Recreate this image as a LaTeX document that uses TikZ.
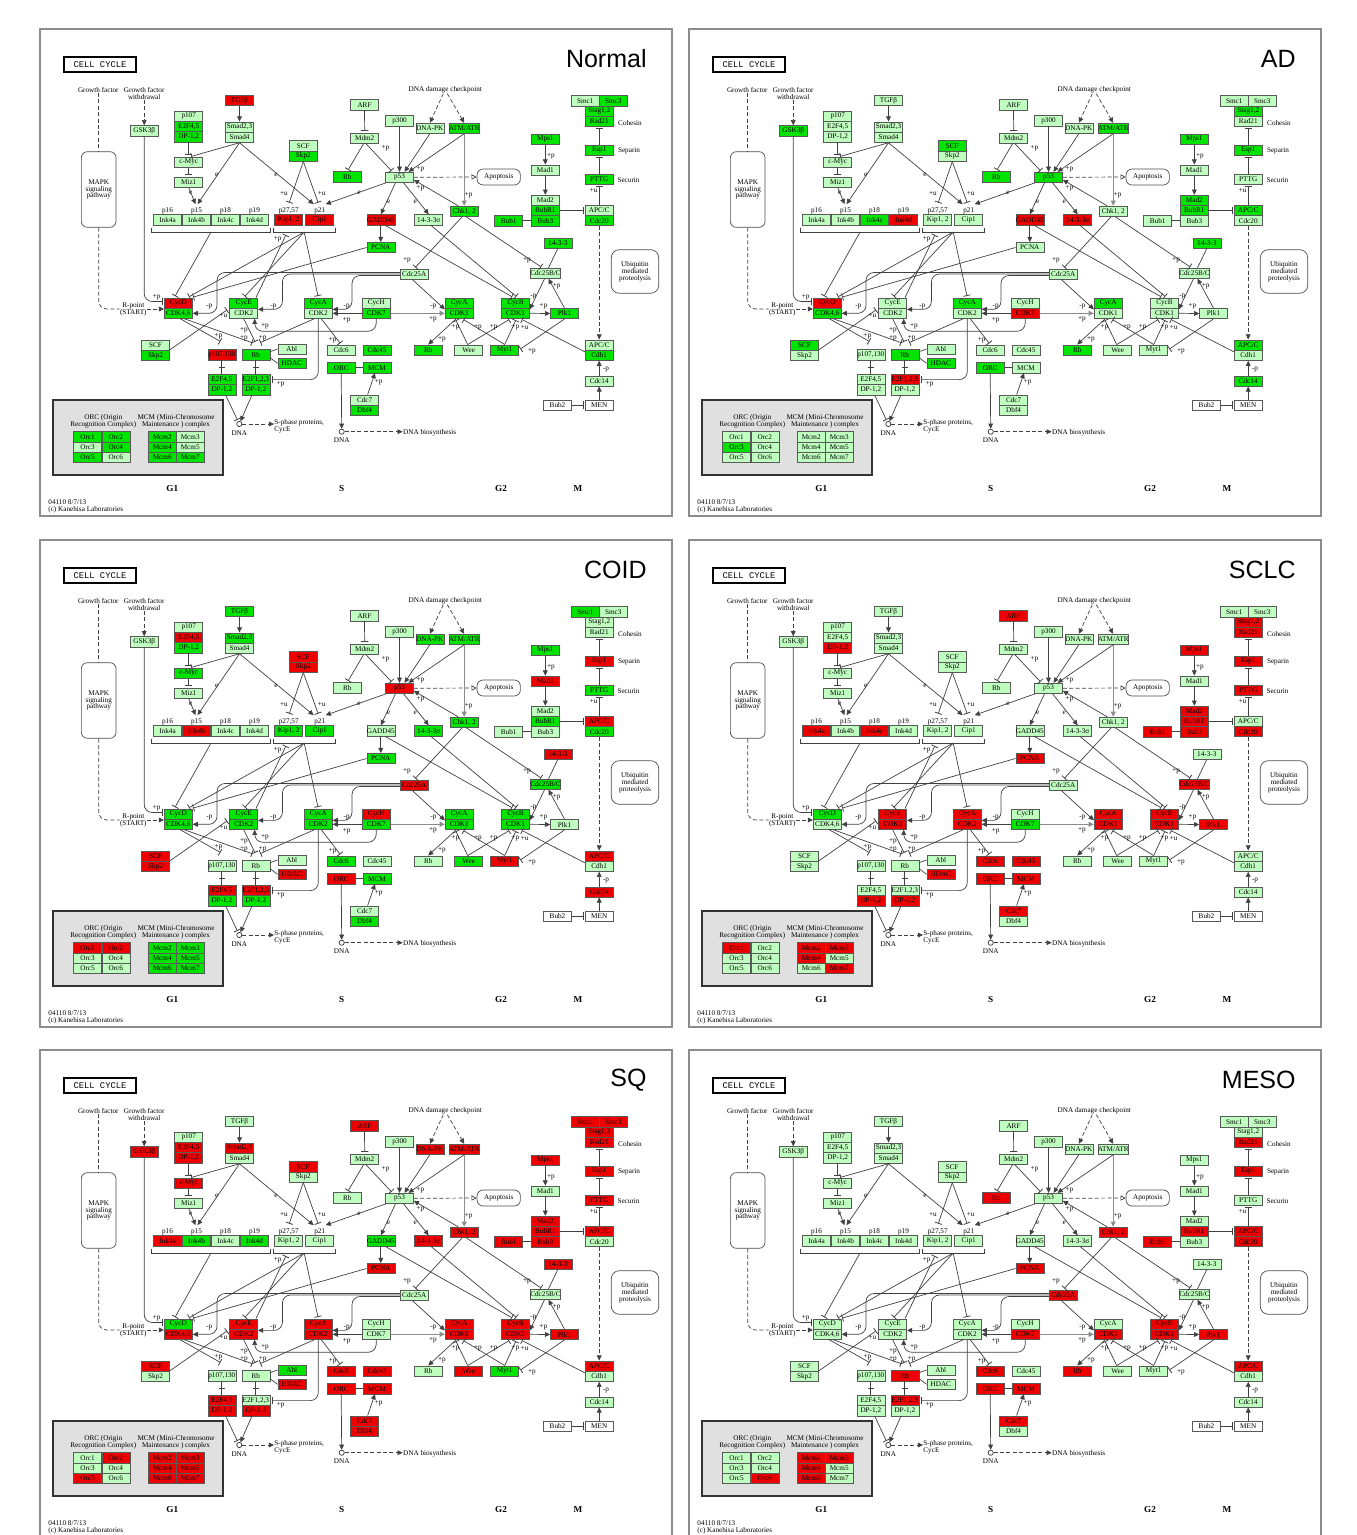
\documentclass[tikz,border=0pt]{standalone}
\usepackage{fontspec}
\setmainfont{Liberation Serif}
\newfontfamily\titlefont{Liberation Sans}
\newfontfamily\ccfont{Liberation Mono}
\usetikzlibrary{arrows.meta,calc}

\definecolor{lg}{RGB}{191,255,191}
\definecolor{gr}{RGB}{0,228,0}
\definecolor{rd}{RGB}{238,0,0}
\newcommand\gfont{\fontsize{3.6}{3.4}\selectfont}

\tikzset{
  gene/.style={draw=black!65, line width=0.3pt, fill=lg, minimum width=14pt,
    minimum height=5.15pt, inner sep=0pt, font=\gfont, /tikz/cg/#1/.try},
  lbl/.style={inner sep=0pt, font=\gfont, align=center},
  pbox/.style={draw=black!70, line width=0.35pt, inner sep=0pt, font=\gfont, align=center},
  ccbox/.style={draw=black, line width=0.8pt, fill=white, minimum width=36pt,
    minimum height=7.5pt, inner sep=0pt, font=\ccfont\fontsize{4.4}{4.4}\selectfont},
  legbox/.style={draw=black!80, line width=1pt, fill=black!12, minimum width=85pt,
    minimum height=37.5pt, inner sep=0pt},
  dot/.style={circle, draw=black!80, line width=0.35pt, fill=white, inner sep=0pt, minimum size=2.6pt},
  phase/.style={inner sep=0pt, font=\fontsize{4.6}{4.6}\selectfont\bfseries},
  frame/.style={draw=black!45, line width=0.6pt},
  con/.style={draw=black!75, line width=0.35pt},
  thk/.style={draw=black!45, line width=0.7pt},
  act/.style={con, -{Triangle[length=2.6pt, width=2.4pt]}},
  inh/.style={con, -{Bar[width=3.6pt, line width=0.4pt]}, shorten >=0.8pt},
  dsh/.style={con, dash pattern=on 2pt off 1.2pt},
  opn/.style={con, dash pattern=on 2pt off 1.2pt, -{Triangle[open, length=2.6pt, width=2.6pt]}}
}

\newcommand\gbox[4]{\node[gene=#1] (#1) at (#2,#3) {#4};}
\newcommand\tlab[4]{\node[lbl] (#1) at (#2,#3) {#4};}

\makeatletter
\newcommand\cellpanel[5]{%
\begin{scope}[shift={(#1,#2)}, name prefix=#3-]
\@for\cc@k:=#4\do{\edef\cc@t{\noexpand\tikzset{cg/\cc@k/.style={fill=rd}}}\cc@t}%
\@for\cc@k:=#5\do{\edef\cc@t{\noexpand\tikzset{cg/\cc@k/.style={fill=gr}}}\cc@t}%
\draw[frame] (40,29) rectangle (672,516);
\node[ccbox] (cc) at (100,64.5) {CELL CYCLE};
\node[anchor=east, inner sep=0pt, font=\titlefont\fontsize{12.5}{12.5}\selectfont] (title) at (647,59) {#3};

% growth factor side
\tlab{gf}{98.3}{90}{Growth factor}
\tlab{gfw}{144.2}{93.5}{Growth factor\\withdrawal}
\node[pbox, rounded corners=3pt, minimum width=17.35pt, minimum height=37.8pt] (mapk) at (98.7,189.5) {MAPK\\signaling\\pathway};
\tlab{rpt}{133.3}{309}{R-point\\(START)}
\gbox{gsk}{144.2}{130.7}{GSK3β}

% G1 regulators
\gbox{p107}{188.7}{116.2}{p107}
\gbox{e2f45a}{188.7}{126.5}{E2F4,5}
\gbox{dp12a}{188.7}{136.8}{DP-1,2}
\gbox{tgfb}{239.5}{100.5}{TGFβ}
\gbox{smad23}{239.5}{127}{Smad2,3}
\gbox{smad4}{239.5}{137.3}{Smad4}
\gbox{cmyc}{188.7}{162.3}{c-Myc}
\gbox{miz1}{188.7}{182}{Miz1}
\gbox{scfa}{303.3}{145.8}{SCF}
\gbox{skp2a}{303.3}{156.1}{Skp2}
\gbox{ink4a}{167.5}{219.7}{Ink4a}
\gbox{ink4b}{196.5}{219.7}{Ink4b}
\gbox{ink4c}{225.5}{219.7}{Ink4c}
\gbox{ink4d}{254.5}{219.7}{Ink4d}
\tlab{lp16}{167.5}{210.7}{p16}
\tlab{lp15}{196.5}{210.7}{p15}
\tlab{lp18}{225.5}{210.7}{p18}
\tlab{lp19}{254.5}{210.7}{p19}
\gbox{kip}{288.7}{219.7}{Kip1, 2}
\gbox{cip}{319.7}{219.7}{Cip1}
\tlab{lp27}{288.7}{210.7}{p27,57}
\tlab{lp21}{319.7}{210.7}{p21}

% DNA damage checkpoint
\gbox{arf}{364.5}{104.7}{ARF}
\gbox{mdm2}{364.7}{138}{Mdm2}
\gbox{rba}{347.3}{176.7}{Rb}
\gbox{p300}{399.5}{120.7}{p300}
\gbox{dnapk}{429.8}{128.3}{DNA-PK}
\gbox{atm}{464.2}{128.3}{ATM/ATR}
\tlab{dnadc}{445.3}{90}{DNA damage checkpoint}
\gbox{p53}{399.5}{177.3}{p53}
\node[pbox, rounded corners=3pt, minimum width=21.65pt, minimum height=8pt] (apop) at (498.7,177) {Apoptosis};
\gbox{chk}{464.2}{211.3}{Chk1, 2}
\gbox{gadd}{380.8}{219.7}{GADD45}
\gbox{sig}{428.7}{219.7}{14-3-3σ}
\gbox{pcna}{380.8}{247.5}{PCNA}
\gbox{cdc25a}{414.2}{274}{Cdc25A}
\gbox{h1433}{557.8}{243}{14-3-3}
\gbox{cdc25bc}{545.5}{273.3}{Cdc25B/C}

% spindle checkpoint and cohesin
\gbox{mps1}{545.3}{139.3}{Mps1}
\gbox{mad1}{545.3}{170}{Mad1}
\gbox{mad2}{545.3}{200.2}{Mad2}
\gbox{bubr1}{545.3}{210.5}{BubR1}
\gbox{bub3}{545.3}{220.8}{Bub3}
\gbox{bub1}{508.7}{220.8}{Bub1}
\gbox{apca}{599.2}{210.3}{APC/C}
\gbox{cdc20}{599.2}{220.6}{Cdc20}
\gbox{smc1}{585.2}{100.7}{Smc1}
\gbox{smc3}{613.2}{100.7}{Smc3}
\gbox{stag}{599.2}{111}{Stag1,2}
\gbox{rad21}{599.2}{121.3}{Rad21}
\gbox{espl}{599.2}{150}{Esp1}
\gbox{pttg}{599.2}{179}{PTTG}
\tlab{lcoh}{630}{123}{Cohesin}
\tlab{lsep}{629}{151}{Separin}
\tlab{lsec}{628.5}{180}{Securin}
\node[pbox, rounded corners=4pt, minimum width=23.7pt, minimum height=21.8pt] (ubq) at (635,271.5) {Ubiquitin\\mediated\\proteolysis};

% cyclin/CDK row
\gbox{cycd}{178.3}{303}{CycD}
\gbox{cdk46}{178.3}{313.3}{CDK4,6}
\gbox{cyce}{243.7}{303}{CycE}
\gbox{cdk2e}{243.7}{313.3}{CDK2}
\gbox{cyca2}{318.3}{303}{CycA}
\gbox{cdk2a}{318.3}{313.3}{CDK2}
\gbox{cych}{376.2}{303}{CycH}
\gbox{cdk7}{376.2}{313.3}{CDK7}
\gbox{cyca1}{459.2}{303}{CycA}
\gbox{cdk1a}{459.2}{313.3}{CDK1}
\gbox{cycb}{515.5}{303}{CycB}
\gbox{cdk1b}{515.5}{313.3}{CDK1}
\gbox{plk1}{564.5}{313.5}{Plk1}

% lower G1/S
\gbox{scfb}{155.5}{345}{SCF}
\gbox{skp2b}{155.5}{355.3}{Skp2}
\gbox{p107130}{221.8}{354.7}{p107,130}
\gbox{rbb}{255.8}{354.7}{Rb}
\gbox{abl}{291.8}{349}{Abl}
\gbox{hdac}{291.8}{363.3}{HDAC}
\gbox{e2f45b}{221.8}{379.6}{E2F4,5}
\gbox{dp12b}{221.8}{389.9}{DP-1,2}
\gbox{e2f123}{255.8}{379.6}{E2F1,2,3}
\gbox{dp12c}{255.8}{389.9}{DP-1,2}
\gbox{cdc6}{341.2}{350}{Cdc6}
\gbox{orc}{341.2}{367.7}{ORC}
\gbox{cdc45}{377}{350.5}{Cdc45}
\gbox{mcm}{377}{367.7}{MCM}
\gbox{cdc7}{364.6}{400}{Cdc7}
\gbox{dbf4}{364.6}{410.3}{Dbf4}
\node[dot] (dnaa) at (239.3,424) {};
\tlab{ldnaa}{239.3}{433.3}{DNA}
\node[dot] (dnab) at (341.7,431.7) {};
\tlab{ldnab}{341.7}{440}{DNA}
\node[lbl, align=left, anchor=west] (sph) at (274,426) {S-phase proteins,\\CycE};
\node[lbl, anchor=west] (dnabio) at (402.7,432.3) {DNA biosynthesis};

% G2/M
\gbox{rbc}{428.2}{350}{Rb}
\gbox{wee}{468.7}{350}{Wee}
\gbox{myt1}{504.7}{350}{Myt1}
\gbox{apcb}{599.2}{345}{APC/C}
\gbox{cdh1}{599.2}{355.3}{Cdh1}
\gbox{cdc14}{599.2}{381}{Cdc14}
\node[gene=men, fill=white] (men) at (599.2,405) {MEN};
\node[gene=bub2, fill=white] (bub2) at (557.5,405) {Bub2};

% brackets
\draw[con] ($(ink4a.south west)+(-1.5,2.5)$) -- ++(0,4.4) -| ($(ink4d.south east)+(1.5,2.5)$);
\coordinate (brA) at ($(ink4a.south west)!.5!(ink4d.south east)+(0,6.9)$);
\draw[con] ($(kip.south west)+(-1.5,2.5)$) -- ++(0,4.4) -| ($(cip.south east)+(1.5,2.5)$);
\coordinate (brB) at ($(kip.south west)!.5!(cip.south east)+(0,6.9)$);

% connectors, left
\draw[dsh] (gf.south) -- (gf.south |- mapk.north);
\draw[dsh, rounded corners=4] (mapk.south) |- (rpt.west);
\draw[dsh, act] (rpt.east) -- (rpt.east -| cycd.west);
\draw[dsh, act] (gfw.south) -- (gsk.north);
\draw[inh, rounded corners=4] (gsk.south) |- ($(cycd.west)+(0,-1.5)$);
\draw[inh] (dp12a.south) -- (cmyc.north);
\draw[inh] (smad4.south) -- ($(cmyc.north)+(1,0)$);
\draw[inh] (cmyc.south) -- (miz1.north);
\draw[act] (tgfb.south) -- (smad23.north);
\draw[act] (miz1.south) -- ($(lp15.north)+(-1,-3)$);
\draw[act] (smad4.south) -- ($(lp15.north)+(1,-3)$);
\draw[act] (smad4.south) -- ($(lp21.north)+(-6,-3)$);
\draw[inh] (skp2a.south) -- ($(lp27.north)+(0,-3)$);
\draw[inh] (skp2a.south) -- ($(lp21.north)+(-1,-3)$);
\draw[act] ($(p53.south west)+(1,0)$) -- ($(lp21.north)+(6,-3)$);

% connectors, p53
\draw[inh] (arf.south) -- (mdm2.north);
\draw[inh] ($(mdm2.south)+(-1,0)$) -- (rba.north);
\draw[inh] ($(mdm2.south)+(1,0)$) -- ($(p53.north)+(-7,0)$);
\draw[act] (p300.south) -- (p53.north);
\draw[act] (dnapk.south) -- ($(p53.north)+(5,0)$);
\draw[act] (atm.south) -- ($(p53.north)+(9,0)$);
\draw[dsh, act] ($(dnadc.south)+(-2,0)$) -- (dnapk.north);
\draw[dsh, act] ($(dnadc.south)+(2,0)$) -- (atm.north);
\draw[act, thk] (atm.south) -- (chk.north);
\draw[act] ($(chk.north)+(-6,0)$) -- ($(p53.east)+(0,2.5)$);
\draw[opn] (p53.east) -- (apop.west);
\draw[act] ($(p53.south)+(-4,0)$) -- (gadd.north);
\draw[act] ($(p53.south)+(4,0)$) -- (sig.north);
\draw[act] (gadd.south) -- (pcna.north);
\draw[inh] ($(gadd.south)+(4,0)$) -- ($(cycb.north)+(-2,0)$);
\draw[inh] ($(sig.south)+(2,0)$) -- ($(cycb.north)+(2,0)$);
\draw[inh] ($(chk.south)+(-2,0)$) -- (cdc25a.north);
\draw[inh] ($(chk.south)+(2,0)$) -- ($(cdc25bc.north)+(-3,0)$);
\draw[con] (h1433.south) -- ($(cdc25bc.north)+(3,0)$);

% connectors, M phase
\draw[act] (mps1.south) -- (mad1.north);
\draw[act] (mad1.south) -- (mad2.north);
\draw[con] (bub1.east) -- (bub3.west);
\draw[inh] (bubr1.east) -- (bubr1.east -| apca.west);
\draw[inh] (apca.north) -- (pttg.south);
\draw[inh] (pttg.north) -- (espl.south);
\draw[inh] (espl.north) -- (rad21.south);
\draw[dsh, act] (cdc20.south) -- (apcb.north);
\draw[act] (cdc14.north) -- (cdh1.south);
\draw[act] (men.north) -- (cdc14.south);
\draw[inh] (bub2.east) -- (men.west);
\draw[inh] ($(cdh1.north west)+(0,2)$) -- ($(cdk1b.south)+(5,0)$);

% connectors, G2
\draw[inh] (plk1.south) -- (myt1.east);
\draw[inh] ($(wee.north)+(-1,0)$) -- ($(cdk1a.south)+(-4,0)$);
\draw[inh] ($(wee.north)+(-1,0)$) -- ($(cdk1b.south)+(-5,0)$);
\draw[inh] (myt1.north) -- ($(cdk1a.south)+(3,0)$);
\draw[inh] (myt1.north) -- ($(cdk1b.south)+(1,0)$);
\draw[act] ($(cdk1a.south)+(-3,0)$) -- (rbc.north);
\draw[act] (plk1.north) -- ($(cdc25bc.south)+(3,0)$);
\draw[act] ($(cdc25bc.south)+(-1,0)$) -- ($(cdk1b.north east)+(0,1.5)$);
\draw[act] (cdk1b.east) -- (plk1.west);
\draw[act] ($(cdc25a.south)+(-2,0)$) -- ($(cdk1a.north west)+(0,1.5)$);
\draw[act, thk] (cdk7.east) -- (cdk7.east -| cdk1a.west);
\draw[act] (cdk7.west) -- (cdk7.west -| cdk2a.east);
\draw[act, rounded corners=4] ($(cdc25a.west)+(0,1.5)$) -| ($(cdk2a.north east)+(19.4,1.5)$) -- ($(cdk2a.north east)+(0,1.5)$);
\draw[act, rounded corners=4] (cdc25a.west) -| ($(cdk2e.north east)+(24.4,1.5)$) -- ($(cdk2e.north east)+(0,1.5)$);
\draw[act, rounded corners=4] ($(cdc25a.west)+(0,-1.5)$) -| ($(cdk46.east)+(24.4,0)$) -- (cdk46.east);
\draw[act, rounded corners=4] (cdk7.south) -- ++(0,12.5) -| ($(cdk2e.south)+(11,0)$);

% connectors, G1
\draw[inh] (pcna.west) -- ($(cycd.north east)+(-1,0)$);
\draw[inh] (brA) -- ($(cycd.north)+(-4,0)$);
\draw[inh] (brB) -- ($(cycd.north east)+(-5,0)$);
\draw[inh] (brB) -- (cyce.north);
\draw[inh] (brB) -- (cyca2.north);
\draw[inh] ($(cyce.north east)+(-2,0)$) -- ($(brB)+(-17.6,1.5)$);
\draw[inh] (skp2b.north east) -- ($(cyce.west)+(-1,6)$);
\draw[inh] ($(cdk46.south)+(2,0)$) -- ($(p107130.north)+(0,-7)$);
\draw[inh] ($(cdk46.south)+(6,0)$) -- ($(rbb.north)+(-2,-6)$);
\draw[inh] (cdk2e.south) -- ($(rbb.north)+(0,-6)$);
\draw[inh] ($(cdk2a.south)+(-4,0)$) -- ($(rbb.north)+(3,-6)$);
\draw[con] (p107130.south) -- (e2f45b.north);
\draw[con] ($(p107130.south)!.5!(e2f45b.north)+(-3,0)$) -- ++(6,0);
\draw[con] (rbb.south) -- (e2f123.north);
\draw[con] ($(rbb.south)!.5!(e2f123.north)+(-3,0)$) -- ++(6,0);
\draw[con] ($(rbb.east)+(0,-3)$) -- (abl.west);
\draw[con] ($(rbb.east)+(0,3)$) -- (hdac.west);
\draw[inh, rounded corners=4] (cdk2a.south) |- (e2f123.east);
\draw[inh] ($(cdk2a.south)+(3,0)$) -- (cdc6.north);
\draw[inh] ($(dp12b.south)+(4,0)$) -- (dnaa);
\draw[act] ($(dp12c.south)+(-4,0)$) -- (dnaa);
\draw[dsh, act] (dnaa.east) -- (dnaa.east -| sph.west);
\draw[act] (orc.south) -- (dnab.north);
\draw[con] (orc.east) -- (mcm.west);
\draw[act] ($(cdc7.north)+(3,0)$) -- ($(mcm.south)+(-2,0)$);
\draw[dsh, act] (dnab.east) -- (dnab.east -| dnabio.west);

% edge labels
\tlab{pgsk}{156.7}{297.5}{+p}
\tlab{eMiz}{190.7}{193}{e}
\tlab{eS15}{216.7}{174.7}{e}
\tlab{eS21}{276}{175}{e}
\tlab{uKip}{284}{193.7}{+u}
\tlab{uCip}{321.7}{193.7}{+u}
\tlab{eP21}{359}{193}{e}
\tlab{pMdm}{385.3}{148}{+p}
\tlab{pAtm}{420.3}{169.7}{+p}
\tlab{pChk}{420.3}{188.3}{+p}
\tlab{pAC}{468.7}{195.7}{+p}
\tlab{eGad}{388.7}{201.7}{e}
\tlab{eSig}{415.3}{201.7}{e}
\tlab{pC25a}{407}{260.7}{+p}
\tlab{pC25bc}{527}{260.7}{+p}
\tlab{pMps}{551}{156.3}{+p}
\tlab{uApc}{593.7}{190.7}{+u}
\tlab{mC14}{606}{370}{-p}
\tlab{uCdh}{524.7}{327.3}{+u}
\tlab{pPlkM}{532}{351.7}{+p}
\tlab{pW1}{455.3}{327.3}{+p}
\tlab{pW2}{478}{327.3}{+p}
\tlab{pW3}{493.7}{327.3}{+p}
\tlab{pW4}{515.3}{327.3}{+p}
\tlab{pRbc}{442}{339}{+p}
\tlab{pPlkC}{556.7}{286.7}{+p}
\tlab{mC25B}{533.3}{296.7}{-p}
\tlab{pCycB}{543.3}{306.7}{+p}
\tlab{mC25A1}{433.3}{306.7}{-p}
\tlab{pH1}{433}{319.3}{+p}
\tlab{mC25A2}{346.7}{306.7}{-p}
\tlab{pH2}{346.7}{320}{+p}
\tlab{mC25E}{273.3}{306.7}{-p}
\tlab{mC25D}{209.3}{306.7}{-p}
\tlab{pHE}{265}{326.7}{+p}
\tlab{pEK}{277.7}{239}{+p}
\tlab{uScf}{223.3}{316}{+u}
\tlab{pD107}{218.3}{336.7}{+p}
\tlab{pR1}{244}{330.7}{+p}
\tlab{pR2}{244}{338.3}{+p}
\tlab{pR3}{262.7}{338.3}{+p}
\tlab{pE2F}{280.7}{384.3}{+p}
\tlab{pCdc6}{332.7}{340}{+p}
\tlab{pCdc7}{378.7}{382.7}{+p}

% ORC / MCM legend
\node[legbox] (legend) at (138.3,437.5) {};
\tlab{lorc}{103.3}{421}{ORC (Origin\\Recognition Complex)}
\tlab{lmcm}{176}{421}{MCM (Mini-Chromosome\\Maintenance ) complex}
\gbox{orc1}{87.5}{436.8}{Orc1}
\gbox{orc2}{115.8}{436.8}{Orc2}
\gbox{orc3}{87.5}{447}{Orc3}
\gbox{orc4}{115.8}{447}{Orc4}
\gbox{orc5}{87.5}{457.2}{Orc5}
\gbox{orc6}{115.8}{457.2}{Orc6}
\gbox{mcm2}{162.2}{436.8}{Mcm2}
\gbox{mcm3}{190.2}{436.8}{Mcm3}
\gbox{mcm4}{162.2}{447}{Mcm4}
\gbox{mcm5}{190.2}{447}{Mcm5}
\gbox{mcm6}{162.2}{457.2}{Mcm6}
\gbox{mcm7}{190.2}{457.2}{Mcm7}

% phases and footer
\node[phase] (g1) at (172.3,488.3) {G1};
\node[phase] (s) at (341.7,488.3) {S};
\node[phase] (g2) at (501,488.3) {G2};
\node[phase] (m) at (578,488.3) {M};
\node[lbl, align=left, anchor=west] (foot) at (48,506) {04110 8/7/13\\(c) Kanehisa Laboratories};
\end{scope}}
\makeatother

\begin{document}
\begin{tikzpicture}[x=0.5pt, y=-0.5pt]
\useasboundingbox (0,0) rectangle (1356,1535);

\cellpanel{0}{0}{Normal}{tgfb,kip,cip,gadd,cycd,p107130}{e2f45a,dp12a,skp2a,rba,atm,chk,pcna,mps1,bubr1,bub3,bub1,cdc20,smc3,stag,rad21,espl,pttg,h1433,cdk46,cyce,cyca2,cdk7,cyca1,cdk1a,cycb,cdk1b,plk1,skp2b,rbb,hdac,e2f45b,dp12b,e2f123,dp12c,orc,cdc45,mcm,dbf4,rbc,myt1,cdh1,orc1,orc2,orc4,orc5,mcm2,mcm4,mcm6,mcm7}

\cellpanel{649}{0}{AD}{ink4d,gadd,sig,cycd,cdk7,e2f123}{gsk,scfa,rba,atm,p53,ink4c,mps1,mad2,bubr1,apca,stag,espl,h1433,cdk46,cyca2,cyca1,scfb,rbb,hdac,orc,rbc,apcb,cdc14,orc3}

\cellpanel{0}{511}{COID}{e2f45a,scfa,skp2a,p53,ink4b,mad1,apca,espl,h1433,cdc25a,cych,scfb,skp2b,hdac,e2f45b,e2f123,orc,myt1,apcb,cdc14,orc1,orc2}{dp12a,tgfb,smad23,cmyc,dnapk,atm,kip,cip,sig,chk,pcna,mps1,bubr1,cdc20,smc1,pttg,cdc25bc,cycd,cdk46,cyce,cdk2e,cyca2,cdk2a,cdk7,cyca1,cdk1a,cycb,cdk1b,dp12b,dp12c,cdc6,mcm,dbf4,wee,mcm2,mcm3,mcm4,mcm5,mcm6,mcm7}

\cellpanel{649}{511}{SCLC}{dp12a,arf,ink4a,ink4c,pcna,mps1,mad2,bubr1,bub3,bub1,cdc20,stag,rad21,espl,pttg,cdc25bc,cyce,cdk2e,cyca2,cdk2a,cyca1,cdk1a,cycb,cdk1b,plk1,hdac,dp12b,dp12c,cdc6,orc,cdc45,mcm,cdc7,orc1,mcm2,mcm3,mcm4,mcm7}{cycd,cdk7}

\cellpanel{0}{1021}{SQ}{gsk,e2f45a,dp12a,smad23,cmyc,scfa,arf,dnapk,atm,ink4a,sig,chk,pcna,mps1,mad2,bubr1,bub3,bub1,apca,smc1,smc3,stag,rad21,espl,pttg,h1433,cdk46,cyce,cdk2e,cyca2,cdk2a,cyca1,cdk1a,cycb,cdk1b,plk1,scfb,hdac,e2f45b,dp12b,dp12c,cdc6,orc,cdc45,mcm,cdc7,dbf4,wee,apcb,orc2,orc5,mcm2,mcm3,mcm4,mcm5,mcm6,mcm7}{ink4b,ink4d,gadd,cycd,abl,myt1}

\cellpanel{649}{1021}{MESO}{rba,chk,pcna,bubr1,bub1,apca,cdc20,rad21,espl,cdc25a,cdk7,cdk1a,cycb,cdk1b,plk1,rbb,e2f123,cdc6,orc,mcm,cdc7,rbc,apcb,orc6,mcm2,mcm3,mcm4,mcm6}{}

\end{tikzpicture}
\end{document}
